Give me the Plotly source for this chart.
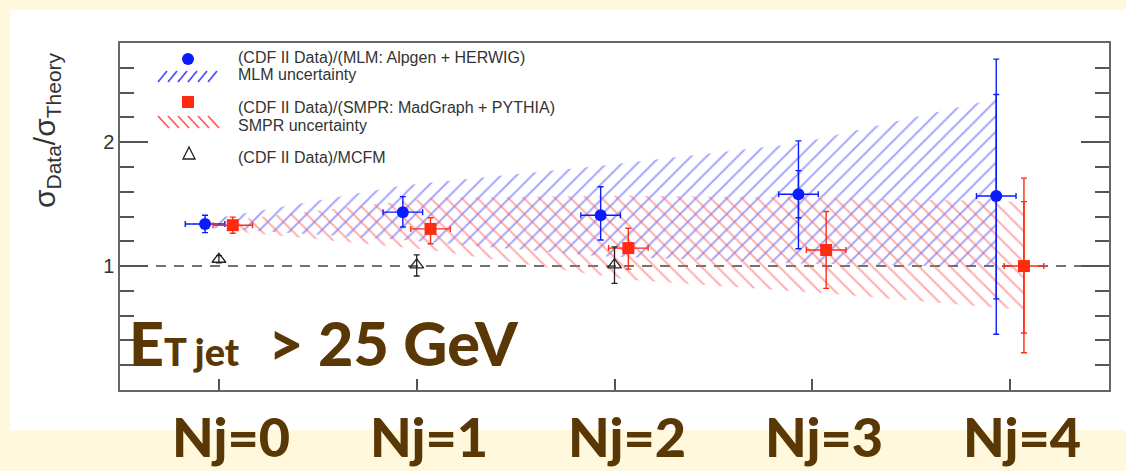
import plotly.graph_objects as go

# ---------------- data ----------------
nj = [0, 1, 2, 3, 4]
nj_labels = ["Nj=0", "Nj=1", "Nj=2", "Nj=3", "Nj=4"]
nj_halfwidth = [0.1, 0.1, 0.1, 0.1, 0.1]

# (CDF II Data)/(MLM: Alpgen + HERWIG)
mlm_ratio = [1.34, 1.435, 1.41, 1.58, 1.565]
mlm_err_up = [0.07, 0.125, 0.23, 0.43, 1.105]
mlm_err_dn = [0.07, 0.12, 0.20, 0.44, 1.115]
mlm_stat_up = [0.0, 0.0, 0.0, 0.19, 0.82]
mlm_stat_dn = [0.0, 0.0, 0.0, 0.19, 0.83]
mlm_band_hi = [1.37, 1.65, 1.81, 1.99, 2.35]
mlm_band_lo = [1.31, 1.21, 1.08, 1.02, 0.99]

# (CDF II Data)/(SMPR: MadGraph + PYTHIA)
smpr_ratio = [1.33, 1.30, 1.145, 1.13, 1.00]
smpr_err_up = [0.065, 0.09, 0.16, 0.31, 0.71]
smpr_err_dn = [0.065, 0.12, 0.17, 0.31, 0.70]
smpr_stat_up = [0.0, 0.0, 0.0, 0.0, 0.52]
smpr_stat_dn = [0.0, 0.0, 0.0, 0.0, 0.54]
smpr_band_hi = [1.37, 1.55, 1.57, 1.55, 1.52]
smpr_band_lo = [1.28, 1.13, 0.89, 0.78, 0.645]

# (CDF II Data)/MCFM
mcfm_nj = [0, 1, 2]
mcfm_ratio = [1.055, 1.01, 1.01]
mcfm_err_up = [0.03, 0.08, 0.145]
mcfm_err_dn = [0.03, 0.09, 0.15]

# ---------------- styling / layout helpers ----------------
W, H = 1126, 471
L, R, T, B = 120, 1109, 43, 390
MLM_SHIFT, SMPR_SHIFT = -0.07, 0.07
BLUE, RED = "#0a1cff", "#ff2a10"
BLUE_HATCH, RED_HATCH = "#4c4cff", "#ff5c5c"
BROWN = "#5a3806"
TXT = "#333333"


def px(x):
    return (x - L) / (R - L)


def py(y):
    return (B - y) / (B - T)


x_mlm = [n + MLM_SHIFT for n in nj]
x_smpr = [n + SMPR_SHIFT for n in nj]

fig = go.Figure()

# uncertainty bands
fig.add_trace(go.Scatter(
    x=x_mlm + x_mlm[::-1], y=mlm_band_hi + mlm_band_lo[::-1],
    fill="toself", mode="lines", line=dict(width=0),
    fillcolor="rgba(0,0,0,0)",
    fillpattern=dict(shape="/", fgcolor=BLUE_HATCH, bgcolor="rgba(0,0,0,0)",
                     size=11, solidity=0.18),
    hoverinfo="skip", showlegend=False))
fig.add_trace(go.Scatter(
    x=x_smpr + x_smpr[::-1], y=smpr_band_hi + smpr_band_lo[::-1],
    fill="toself", mode="lines", line=dict(width=0),
    fillcolor="rgba(0,0,0,0)",
    fillpattern=dict(shape="\\", fgcolor=RED_HATCH, bgcolor="rgba(0,0,0,0)",
                     size=11, solidity=0.18),
    hoverinfo="skip", showlegend=False))


def points(x, y, up, dn, stat_up, stat_dn, color, symbol, size):
    # statistical error ticks
    fig.add_trace(go.Scatter(
        x=x, y=y, mode="markers", marker=dict(size=1, color="rgba(0,0,0,0)"),
        error_y=dict(type="data", symmetric=False, array=stat_up, arrayminus=stat_dn,
                     color=color, thickness=1.4, width=3),
        hoverinfo="skip", showlegend=False))
    # total error and marker
    fig.add_trace(go.Scatter(
        x=x, y=y, mode="markers",
        marker=dict(size=size, color=color, symbol=symbol),
        error_x=dict(type="data", array=nj_halfwidth, color=color, thickness=1.4, width=3),
        error_y=dict(type="data", symmetric=False, array=up, arrayminus=dn,
                     color=color, thickness=1.4, width=3),
        showlegend=False))


points(x_mlm, mlm_ratio, mlm_err_up, mlm_err_dn, mlm_stat_up, mlm_stat_dn, BLUE, "circle", 12)
points(x_smpr, smpr_ratio, smpr_err_up, smpr_err_dn, smpr_stat_up, smpr_stat_dn, RED, "square", 12)

fig.add_trace(go.Scatter(
    x=mcfm_nj, y=mcfm_ratio, mode="markers",
    marker=dict(size=12, symbol="triangle-up-open", color="#222222", line=dict(width=1.3)),
    error_y=dict(type="data", symmetric=False, array=mcfm_err_up, arrayminus=mcfm_err_dn,
                 color="#222222", thickness=1.3, width=3),
    showlegend=False))

shapes = []
# white slide panel
shapes.append(dict(type="rect", xref="paper", yref="paper",
                   x0=px(10), x1=px(1130), y0=py(430), y1=py(10),
                   fillcolor="white", line=dict(width=0), layer="below"))
# dashed reference line at ratio 1
shapes.append(dict(type="line", xref="paper", yref="y", x0=0, x1=1, y0=1, y1=1,
                   line=dict(color="#444444", width=1.5, dash="10px,8px"), layer="below"))

# legend symbols
shapes.append(dict(type="circle", xref="paper", yref="paper",
                   x0=px(182), x1=px(194), y0=py(65), y1=py(53),
                   fillcolor=BLUE, line=dict(width=0)))
shapes.append(dict(type="rect", xref="paper", yref="paper",
                   x0=px(182), x1=px(194), y0=py(108), y1=py(96),
                   fillcolor=RED, line=dict(width=0)))
tri = "M {} {} L {} {} L {} {} Z".format(px(183), py(159), px(195), py(159), px(189), py(147))
shapes.append(dict(type="path", xref="paper", yref="paper", path=tri,
                   line=dict(color="#222222", width=1.3)))
for k in range(6):
    x0 = 158 + 10 * k
    shapes.append(dict(type="line", xref="paper", yref="paper",
                       x0=px(x0), x1=px(x0 + 9), y0=py(82), y1=py(71),
                       line=dict(color=BLUE_HATCH, width=1.8)))
    shapes.append(dict(type="line", xref="paper", yref="paper",
                       x0=px(x0), x1=px(x0 + 11), y0=py(116), y1=py(128),
                       line=dict(color=RED_HATCH, width=1.8)))

annotations = []
legend_texts = [
    ("(CDF II Data)/(MLM: Alpgen + HERWIG)", 57),
    ("MLM uncertainty", 74),
    ("(CDF II Data)/(SMPR: MadGraph + PYTHIA)", 108),
    ("SMPR uncertainty", 125),
    ("(CDF II Data)/MCFM", 157),
]
for txt, yy in legend_texts:
    annotations.append(dict(text=txt, xref="paper", yref="paper", x=px(236), y=py(yy),
                            xanchor="left", yanchor="middle", showarrow=False,
                            font=dict(family="Liberation Sans", size=16, color=TXT)))

# y axis title
annotations.append(dict(text="σ<sub>Data</sub>/σ<sub>Theory</sub>", xref="paper", yref="paper",
                        x=px(46), y=py(130), textangle=-90, showarrow=False,
                        xanchor="center", yanchor="middle",
                        font=dict(family="Liberation Sans", size=30, color=TXT)))

# jet threshold label
annotations.append(dict(text="E<span style='font-size:38px'>T jet</span>  > 25 GeV",
                        xref="paper", yref="paper", x=px(127), y=py(342),
                        xanchor="left", yanchor="middle", showarrow=False,
                        font=dict(family="Lato", size=61, color=BROWN, weight=900)))

# jet multiplicity labels
for n, lab in zip(nj, nj_labels):
    annotations.append(dict(text=lab, xref="x", yref="paper", x=n, y=py(436), xshift=12,
                            xanchor="center", yanchor="middle", showarrow=False,
                            font=dict(family="Lato", size=54, color=BROWN, weight=900)))

fig.update_layout(
    width=W, height=H,
    margin=dict(l=L, r=W - R, t=T, b=H - B, pad=0),
    paper_bgcolor="#fff8dc",
    plot_bgcolor="rgba(0,0,0,0)",
    shapes=shapes, annotations=annotations,
    showlegend=False,
    xaxis=dict(range=[-0.5, 4.5], tickvals=nj, showticklabels=False,
               ticks="inside", ticklen=11, tickwidth=1.5, tickcolor="#555555",
               showline=True, linecolor="#666666", linewidth=1.5, mirror=True,
               showgrid=False, zeroline=False),
    yaxis=dict(range=[0, 2.8], tickvals=[1, 2], ticktext=["1", "2"],
               ticks="inside", ticklen=28, tickwidth=1.5, tickcolor="#555555",
               showline=True, linecolor="#666666", linewidth=1.5, mirror="ticks",
               showgrid=False, zeroline=False,
               tickfont=dict(family="Liberation Sans", size=20, color=TXT),
               minor=dict(tick0=0, dtick=0.2, ticks="inside", ticklen=14,
                          tickwidth=1.5, tickcolor="#555555", showgrid=False)),
)

fig.write_html("out.html")
